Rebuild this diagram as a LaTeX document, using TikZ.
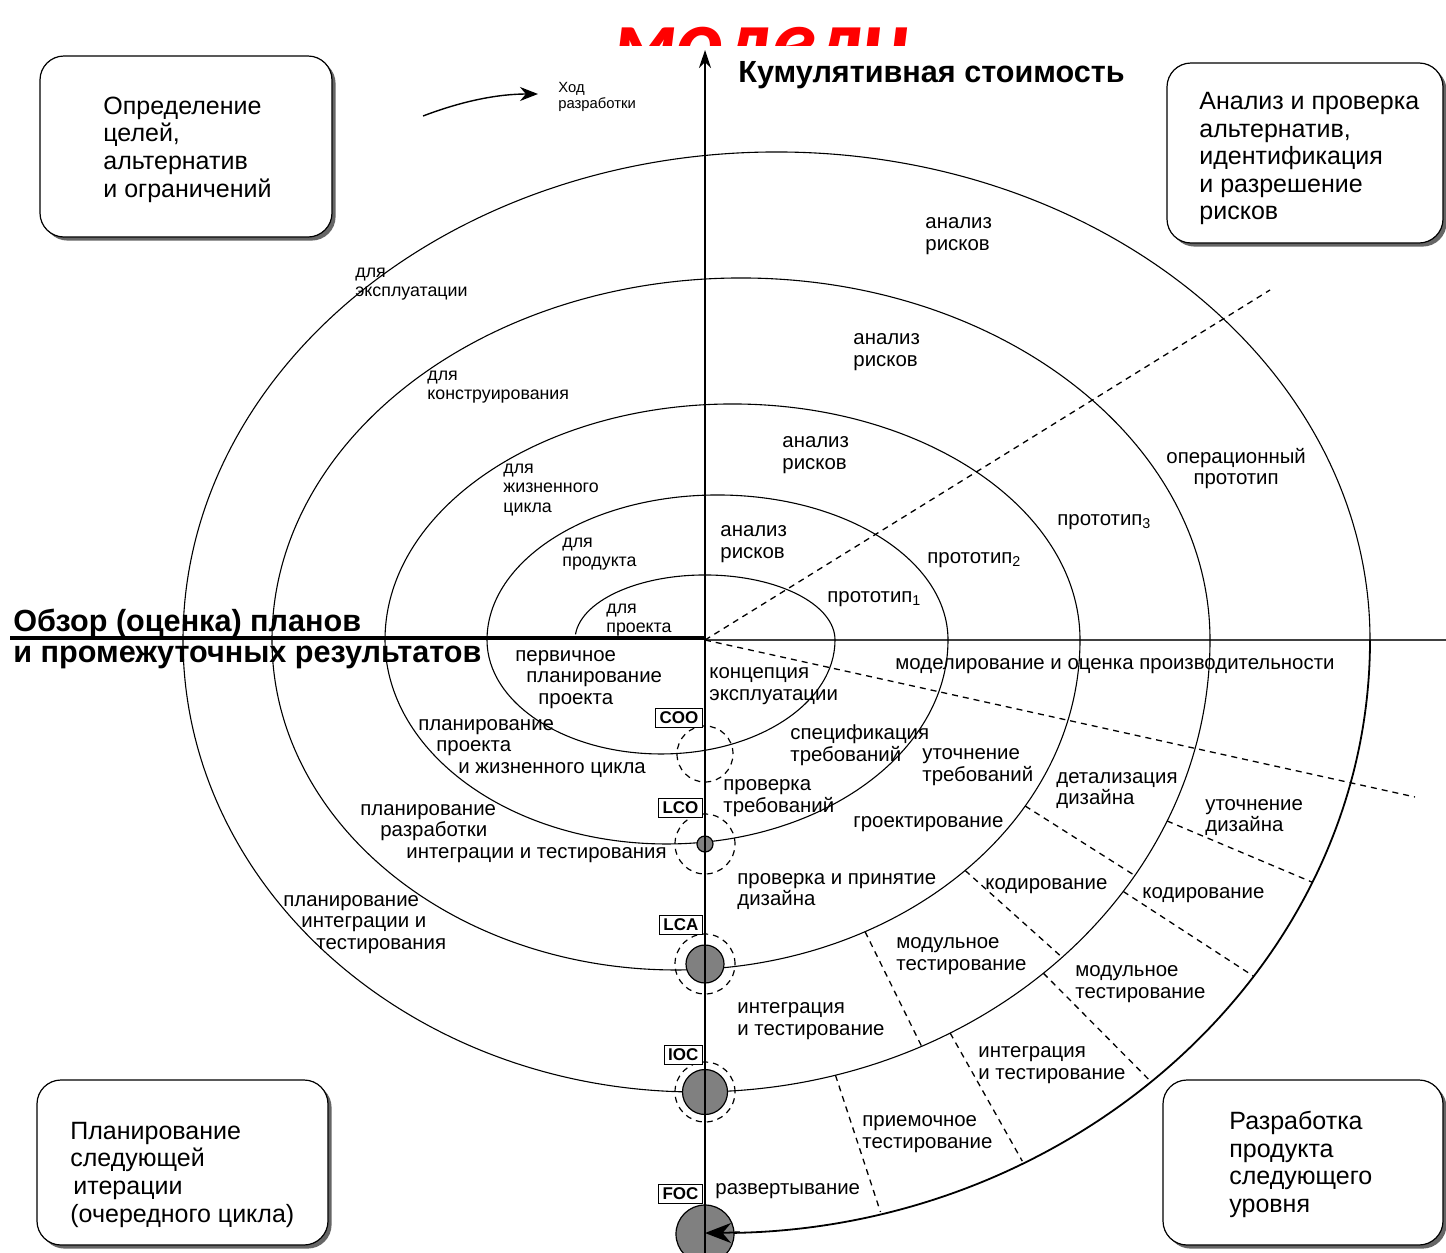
\documentclass[tikz,border=0pt]{standalone}
\usepackage{fontspec}
\setmainfont{Liberation Sans}
\newfontfamily\titlefont{Carlito}
\usetikzlibrary{arrows.meta,shadows}
\begin{document}
\begin{tikzpicture}[x=0.5pt,y=-0.5pt,
  lbl/.style={anchor=west,align=left,inner sep=0pt,yshift=-1.7pt,font=\fontsize{10.2}{10.8}\selectfont},
  sml/.style={anchor=west,align=left,inner sep=0pt,yshift=-1.5pt,font=\fontsize{8.9}{9.6}\selectfont},
  tiny/.style={anchor=west,align=left,inner sep=0pt,yshift=-1pt,font=\fontsize{7.4}{8}\selectfont},
  corner/.style={draw,rounded corners=12pt,fill=white,line width=0.6pt,
     drop shadow={shadow xshift=1.8pt,shadow yshift=-1.8pt,fill=black!60,opacity=1}},
  boxtxt/.style={anchor=west,align=left,inner sep=0pt,yshift=-1.8pt,font=\fontsize{12.5}{13.8}\selectfont},
  hdr/.style={anchor=west,align=left,inner sep=0pt,font=\bfseries\fontsize{15.3}{16.5}\selectfont},
  ms/.style={draw,line width=0.6pt,font=\bfseries\fontsize{8.5}{9}\selectfont,inner xsep=2pt,inner ysep=1.6pt,fill=white,anchor=east},
  spiral/.style={line width=0.55pt},
  dsh/.style={dash pattern=on 3pt off 2.5pt,line width=0.65pt},
  ring/.style={circle,draw,dash pattern=on 3pt off 2.5pt,line width=0.6pt,inner sep=0pt},
  dot/.style={circle,draw,fill=black!50,line width=0.6pt,inner sep=0pt},
  titlestyle/.style={anchor=base west,inner sep=0pt,text=red,font=\titlefont\bfseries\itshape\fontsize{45}{48}\selectfont}
]
\useasboundingbox (0,0) rectangle (1446,1253);
\fill[white] (0,0) rectangle (1446,1253);

% title (cut off by the picture)
\begin{scope}
\clip (0,0) rectangle (1446,45);
\node[titlestyle] (ttl) at (612,71) {модели};
\end{scope}

% axes
\coordinate (O) at (705,640);
\coordinate (ytop) at (705,50);
\coordinate (ybot) at (705,1253);
\coordinate (xr) at (1446,640);
\coordinate (xl) at (10,638);
\coordinate (xm) at (705,638);
\draw[line width=0.8pt,-{Stealth[length=9pt,width=6pt]}] (ybot) -- (ytop);
\draw[line width=0.6pt,black!75] (O) -- (xr);
\draw[line width=2pt] (xl) -- (xm);

% dashed sector lines
\coordinate (d1) at (1270,290);
\coordinate (d2) at (1415,797);
\draw[dsh] (O) -- (d1);
\draw[dsh] (O) -- (d2);

% spiral
\draw[spiral] (575.5,634.3) arc[start angle=185,end angle=360,x radius=130,y radius=65]
  arc[start angle=0,end angle=180,x radius=174,y radius=114]
  arc[start angle=180,end angle=360,x radius=230.5,y radius=145]
  arc[start angle=0,end angle=180,x radius=281.5,y radius=204]
  arc[start angle=180,end angle=360,x radius=347.5,y radius=236]
  arc[start angle=0,end angle=180,x radius=404,y radius=330]
  arc[start angle=180,end angle=360,x radius=469,y radius=362]
  arc[start angle=0,end angle=180,x radius=513.5,y radius=452]
  arc[start angle=180,end angle=360,x radius=593.5,y radius=488];
\draw[line width=0.9pt,-{Stealth[length=13pt,width=10pt]}] (1370,640) arc[start angle=0,end angle=90,x radius=665,y radius=593];

% dashed segments in the lower right
\draw[dsh] ([shift={(676,640)}]30.2:404 and 330) -- ([shift={(696.5,640)}]31.4:513.5 and 452);
\draw[dsh] ([shift={(676,640)}]44.3:404 and 330) -- ([shift={(696.5,640)}]44.6:513.5 and 452);
\draw[dsh] ([shift={(676,640)}]62.1:404 and 330) -- ([shift={(696.5,640)}]64:513.5 and 452);
\draw[dsh] ([shift={(696.5,640)}]23.6:513.5 and 452) -- ([shift={(705,640)}]24.1:665 and 593);
\draw[dsh] ([shift={(696.5,640)}]33.8:513.5 and 452) -- ([shift={(705,640)}]34.5:665 and 593);
\draw[dsh] ([shift={(696.5,640)}]47.5:513.5 and 452) -- ([shift={(705,640)}]48:665 and 593);
\draw[dsh] ([shift={(696.5,640)}]60.4:513.5 and 452) -- ([shift={(705,640)}]61.5:665 and 593);
\draw[dsh] ([shift={(696.5,640)}]74.3:513.5 and 452) -- ([shift={(705,640)}]74.7:665 and 593);

% milestones
\node[ring,minimum size=28pt] (cooR) at (705,754) {};
\node[ring,minimum size=30pt] (lcoR) at (705,844) {};
\node[dot,minimum size=8pt] (lcoD) at (705,844) {};
\node[ring,minimum size=30pt] (lcaR) at (705,964) {};
\node[dot,minimum size=19pt] (lcaD) at (705,964) {};
\node[ring,minimum size=30pt] (iocR) at (705,1092) {};
\node[dot,minimum size=22.5pt] (iocD) at (705,1092) {};
\node[dot,minimum size=29pt] (focD) at (705,1234) {};
\draw[line width=0.6pt] (lcoD.north) -- (lcoD.south) (lcaD.north) -- (lcaD.south) (iocD.north) -- (iocD.south) (focD.north) -- (focD.south);
\draw[line width=0.9pt,-{Stealth[length=13pt,width=10pt]}] ([shift={(705,640)}]87:665 and 593) arc[start angle=87,end angle=90,x radius=665,y radius=593];

\node[ms] (coo) at (703,718) {COO};
\node[ms] (lco) at (703,808) {LCO};
\node[ms] (lca) at (703,925) {LCA};
\node[ms] (ioc) at (703,1055) {IOC};
\node[ms] (foc) at (703,1194) {FOC};

% corner boxes
\node[corner,minimum width=146pt,minimum height=90.5pt] (bTL) at (186,146.5) {};
\node[boxtxt] (tTL) at (103,146) {Определение\\целей,\\альтернатив\\и ограничений};
\node[corner,minimum width=138pt,minimum height=90pt] (bTR) at (1305,153) {};
\node[boxtxt] (tTR) at (1199,155) {Анализ и проверка\\альтернатив,\\идентификация\\и разрешение\\рисков};
\node[corner,minimum width=145.5pt,minimum height=82.5pt] (bBL) at (182.5,1162.5) {};
\node[boxtxt] (tBL) at (70,1171) {Планирование\\следующей\\\hspace*{1.5pt}итерации\\(очередного цикла)};
\node[corner,minimum width=140pt,minimum height=82.5pt] (bBR) at (1303,1162.5) {};
\node[boxtxt] (tBR) at (1229,1161) {Разработка\\продукта\\следующего\\уровня};

% headers
\node[hdr] (h1) at (738,75) {Кумулятивная стоимость};
\node[hdr] (h2) at (13,623) {Обзор (оценка) планов};
\node[hdr] (h3) at (13,657) {и промежуточных результатов};

% direction arrow
\coordinate (ha) at (423,116);
\coordinate (hb) at (538,94);
\draw[line width=0.7pt,-{Stealth[length=9pt,width=7pt]}] (ha) .. controls (465,100) and (500,94) .. (hb);
\node[tiny] (hod) at (558,95) {Ход\\разработки};

% upper-left labels
\node[sml] (u1) at (355,281) {для\\эксплуатации};
\node[sml] (u2) at (427,384) {для\\конструирования};
\node[sml] (u3) at (503,487) {для\\жизненного\\цикла};
\node[sml] (u4) at (562,551) {для\\продукта};
\node[sml] (u5) at (606,617) {для\\проекта};

% upper-right labels
\node[lbl] (r1) at (925,233) {анализ\\рисков};
\node[lbl] (r2) at (853,349) {анализ\\рисков};
\node[lbl] (r3) at (782,452) {анализ\\рисков};
\node[lbl] (r4) at (720,541) {анализ\\рисков};
\node[lbl] (p1) at (827,596) {прототип\textsubscript{1}};
\node[lbl] (p2) at (927,557) {прототип\textsubscript{2}};
\node[lbl] (p3) at (1057,519) {прототип\textsubscript{3}};
\node[lbl,align=center] (p4) at (1166,465) {операционный\\прототип};

% lower-right labels
\node[lbl] (l1) at (895,663) {моделирование и оценка производительности};
\node[lbl] (l2) at (709,683) {концепция\\эксплуатации};
\node[lbl] (l3) at (790,742) {спецификация\\требований};
\node[lbl] (l4) at (922,764) {уточнение\\требований};
\node[lbl] (l5) at (1056,787) {детализация\\дизайна};
\node[lbl] (l6) at (1205,814) {уточнение\\дизайна};
\node[lbl] (l7) at (723,795) {проверка\\требований};
\node[lbl] (l8) at (853,821) {гроектирование};
\node[lbl] (l9) at (737,888) {проверка и принятие\\дизайна};
\node[lbl] (l10) at (985,883) {кодирование};
\node[lbl] (l11) at (1142,892) {кодирование};
\node[lbl] (l12) at (896,953) {модульное\\тестирование};
\node[lbl] (l13) at (1075,981) {модульное\\тестирование};
\node[lbl] (l14) at (737,1018) {интеграция\\и тестирование};
\node[lbl] (l15) at (978,1062) {интеграция\\и тестирование};
\node[lbl] (l16) at (862,1131) {приемочное\\тестирование};
\node[lbl] (l17) at (715,1188) {развертывание};

% lower-left labels
\node[lbl] (g1) at (515,676) {первичное\\\hspace*{5.5pt}планирование\\\hspace*{11.5pt}проекта};
\node[lbl] (g2) at (418,745) {планирование\\\hspace*{9pt}проекта\\\hspace*{20pt}и жизненного цикла};
\node[lbl] (g3) at (360,830) {планирование\\\hspace*{10pt}разработки\\\hspace*{23pt}интеграции и тестирования};
\node[lbl] (g4) at (283,921) {планирование\\\hspace*{9pt}интеграции и\\\hspace*{16.5pt}тестирования};
\end{tikzpicture}
\end{document}
